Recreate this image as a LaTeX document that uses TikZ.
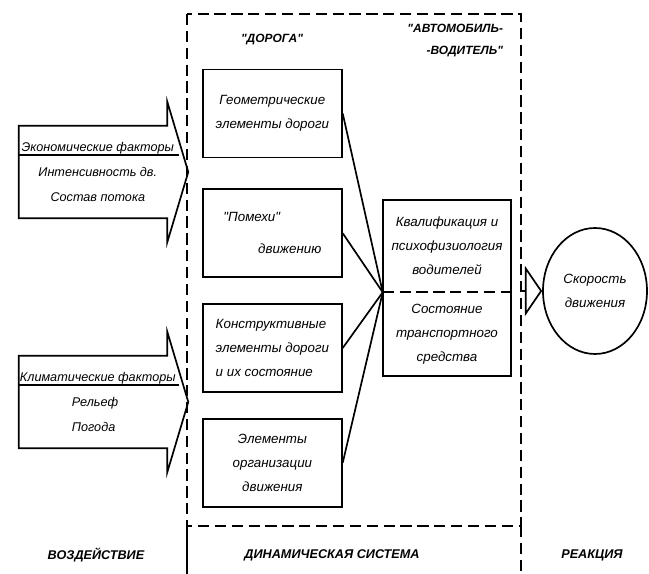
\documentclass[tikz,border=0pt]{standalone}
\usepackage{fontspec}
\setmainfont{Liberation Sans}
\usepackage{tikz}
\usetikzlibrary{arrows.meta, positioning, shapes.geometric, calc}

\begin{document}
\begin{tikzpicture}[
    box/.style={rectangle, draw, line width=1.2pt, minimum width=3.475cm, minimum height=2.2cm, align=center, font={\fontsize{9.5}{17}\selectfont\itshape}},
    halfbox/.style={rectangle, minimum width=3.2cm, align=center, font={\fontsize{9.5}{17}\selectfont\itshape}},
    inbody/.style={rectangle, minimum width=3.7cm, minimum height=2.3cm, inner sep=0pt},
    intext/.style={align=center, font={\fontsize{9}{18}\selectfont\itshape}},
    heading/.style={font={\fontsize{8.5}{15.5}\selectfont\bfseries\itshape}},
    stage/.style={font={\fontsize{9}{11}\selectfont\bfseries\itshape}},
    frame/.style={line width=1.3pt, dash pattern=on 8pt off 4pt},
    link/.style={line width=1.2pt},
    outarr/.style={-{Triangle[open, length=4.3mm, width=12.5mm]}, line width=1.2pt}
]
    \useasboundingbox (0,0) rectangle (16.225,14.35);

    % Dynamic system frame
    \coordinate (sysNW) at (4.675,14.0);
    \coordinate (sysSE) at (13.025,1.2);
    \draw[frame] (sysNW) rectangle (sysSE);
    \draw[frame] (sysSE) -- (13.025,0);
    \draw[line width=1.3pt] (4.675,1.2) -- (4.675,0);

    \node[heading] (road) at (6.8,13.35) {\textquotedbl ДОРОГА\textquotedbl};
    \node[heading, align=right, anchor=east] (autodrv) at (12.7,13.33) {\textquotedbl АВТОМОБИЛЬ-\\-ВОДИТЕЛЬ\textquotedbl};

    % Road side
    \node[box] (geom) at (6.81,11.51) {Геометрические\\элементы дороги};
    \node[box, below=0.75cm of geom] (hindr) {\makebox[2.45cm][l]{\textquotedbl Помехи\textquotedbl}\\[6pt]\makebox[2.45cm][r]{движению}};
    \node[box, below=0.625cm of hindr, align=left] (constr) {Конструктивные\\элементы дороги\\и их состояние};
    \node[box, below=0.625cm of constr] (organ) {Элементы\\организации\\движения};

    % Vehicle-driver side
    \node[halfbox, minimum height=2.3cm] (driver) at (11.175,8.2) {Квалификация и\\психофизиология\\водителей};
    \node[halfbox, minimum height=2.075cm, below=0cm of driver] (vehicle) {Состояние\\транспортного\\средства};
    \draw[link] (driver.north west) rectangle (vehicle.south east);
    \draw[frame, line width=1.2pt] (driver.south west) -- (driver.south east);

    \foreach \src in {geom, hindr, constr, organ}
        \draw[link] (\src.east) -- (driver.south west);

    % Reaction
    \node[ellipse, draw, line width=1.2pt, minimum width=2.6cm, minimum height=3.15cm, align=center, font={\fontsize{9.5}{17}\selectfont\itshape}] (speed) at (14.875,7.075) {Скорость\\движения};
    \coordinate (sysout) at (sysSE |- speed.west);
    \draw[outarr] (sysout) -- (speed.west);

    % Inputs
    \node[inbody] (econ) at (2.325,10.05) {};
    \node[intext] (econtxt) at ($(econ)+(0.12,0)$) {Экономические факторы\\Интенсивность дв.\\Состав потока};
    \draw[link] (econ.north west) -- (econ.north east) -- ++(0,0.6) -- ($(econ.east)+(0.525,0)$) -- ($(econ.south east)+(0,-0.6)$) -- (econ.south east) -- (econ.south west) -- cycle;
    \draw[link] ($(econ.north west)+(0,-0.73)$) -- ++(4.0,0);

    \node[inbody] (clim) at (2.325,4.3) {};
    \node[intext, align=left] (climtxt) at ($(clim)+(0.12,0)$) {Климатические факторы\\\hspace*{1.3cm}Рельеф\\\hspace*{1.3cm}Погода};
    \draw[link] (clim.north west) -- (clim.north east) -- ++(0,0.6) -- ($(clim.east)+(0.525,0)$) -- ($(clim.south east)+(0,-0.6)$) -- (clim.south east) -- (clim.south west) -- cycle;
    \draw[link] ($(clim.north west)+(0,-0.73)$) -- ++(4.0,0);

    % Stages
    \node[stage] (impact) at (2.4,0.475) {ВОЗДЕЙСТВИЕ};
    \node[stage] (dynsys) at (8.3,0.475) {ДИНАМИЧЕСКАЯ СИСТЕМА};
    \node[stage] (react) at (14.8,0.475) {РЕАКЦИЯ};
\end{tikzpicture}
\end{document}
